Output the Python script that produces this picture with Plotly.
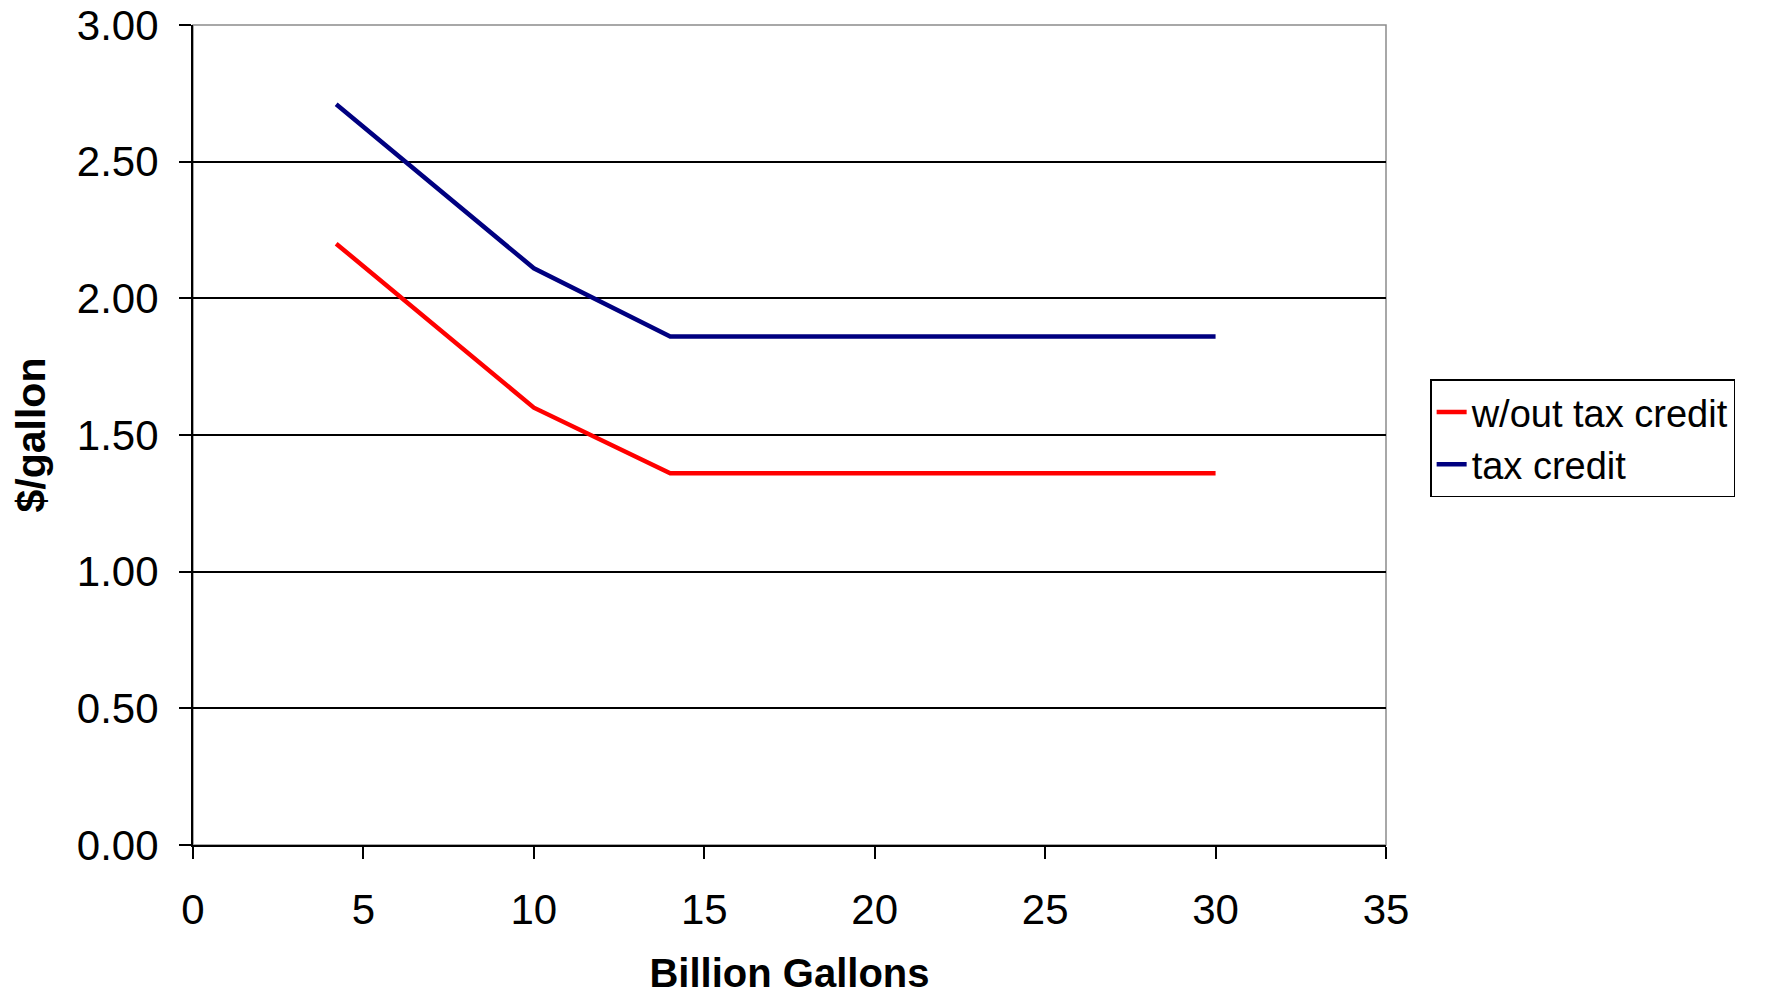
import plotly.graph_objects as go

billion_gallons = [4.2, 10, 14, 30]
without_credit = [2.20, 1.60, 1.36, 1.36]
with_credit = [2.71, 2.11, 1.86, 1.86]
x_ticks = [0, 5, 10, 15, 20, 25, 30, 35]
y_ticks = [0.0, 0.5, 1.0, 1.5, 2.0, 2.5, 3.0]

FONT = "Liberation Sans, Arial, sans-serif"

fig = go.Figure()
fig.add_trace(go.Scatter(x=billion_gallons, y=without_credit, mode="lines",
                         name="w/out tax credit", line=dict(color="#FF0000", width=4.5)))
fig.add_trace(go.Scatter(x=billion_gallons, y=with_credit, mode="lines",
                         name="tax credit", line=dict(color="#000080", width=4.5)))

fig.add_shape(type="rect", xref="paper", yref="paper", x0=0, x1=1, y0=0, y1=1,
              line=dict(color="#8c8c8c", width=1.5), layer="below")

fig.update_layout(
    width=1758, height=987,
    margin=dict(l=185, r=380, t=17, b=150, autoexpand=False),
    paper_bgcolor="white", plot_bgcolor="white",
    font=dict(family=FONT, color="black"),
    showlegend=True,
    legend=dict(x=1.037, y=0.568, xanchor="left", yanchor="top",
                bordercolor="black", borderwidth=1.5, bgcolor="white",
                font=dict(size=38, family=FONT, color="black"),
                tracegroupgap=0, itemwidth=30),
    xaxis=dict(range=[0, 35], tickvals=x_ticks, ticks="outside", ticklen=12,
               tickcolor="black", tickwidth=1.5, showgrid=False, zeroline=False,
               showline=True, linecolor="black", linewidth=2, automargin=False,
               tickfont=dict(size=42, family=FONT), ticklabelstandoff=15,
               ticklabeloverflow="allow",
               title=dict(text="<b>Billion Gallons</b>", font=dict(size=40, family=FONT), standoff=48)),
    yaxis=dict(range=[0, 3], tickvals=y_ticks, tickformat=".2f", ticks="outside", ticklen=12,
               tickcolor="black", tickwidth=1.5, showgrid=True, gridcolor="black", gridwidth=1.5,
               zeroline=False, showline=True, linecolor="black", linewidth=2, automargin=False,
               tickfont=dict(size=42, family=FONT), ticklabelstandoff=12,
               ticklabeloverflow="allow",
               title=dict(text="<b>$/gallon</b>", font=dict(size=41, family=FONT), standoff=24)),
)

fig.write_html("out.html")
